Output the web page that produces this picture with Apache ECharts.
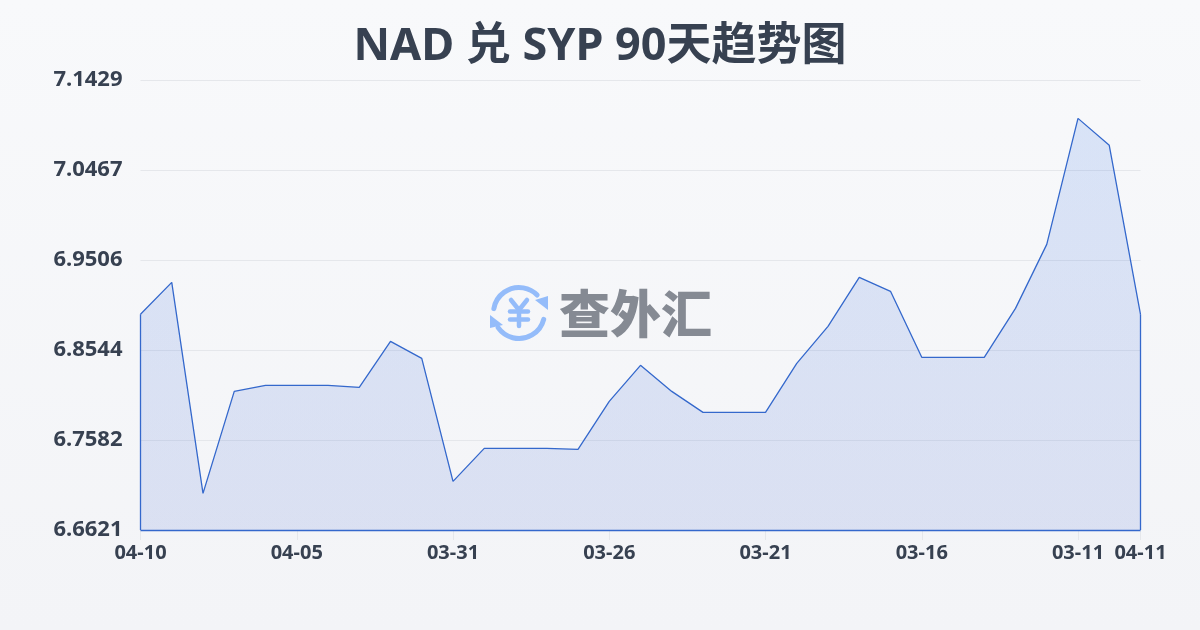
<!DOCTYPE html>
<html><head><meta charset="utf-8">
<style>html,body{margin:0;padding:0;background:#f6f7fa}#c{width:1200px;height:630px}</style>
<script src="https://cdn.jsdelivr.net/npm/echarts@6/dist/echarts.min.js"></script>
</head><body><div id="c"></div>
<script>
const titleText = 'NAD 兑 SYP 90天趋势图';
const watermarkText = '查外汇';
const categories = ['04-10','04-09','04-08','04-07','04-06','04-05','04-04','04-03','04-02','04-01','03-31','03-30','03-29','03-28','03-27','03-26','03-25','03-24','03-23','03-22','03-21','03-20','03-19','03-18','03-17','03-16','03-15','03-14','03-13','03-12','03-11','03-10','04-11'];
const rates = [6.8926,6.9267,6.7012,6.8102,6.8166,6.8166,6.8166,6.8145,6.8636,6.8455,6.7141,6.7493,6.7493,6.7493,6.7483,6.7995,6.8380,6.8102,6.7878,6.7878,6.7878,6.8401,6.8797,6.9320,6.9171,6.8466,6.8466,6.8466,6.8989,6.9673,7.1019,7.0731,6.8926];
const yTicks = [6.6621,6.7582,6.8544,6.9506,7.0467,7.1429];
const labelIdx = [0,5,10,15,20,25,30,32];
const yMin = yTicks[0], yMax = yTicks[yTicks.length-1];
const last = categories.length-1;
const lineBlue = '#3468cc';
const iconBlue = '#94bcfa';
const font = '"Noto Sans","Noto Sans CJK SC",sans-serif';
const edge = (a,b,c,d)=>[{coord:[a,b]},{coord:[c,d]}];

const chart = echarts.init(document.getElementById('c'));
chart.setOption({
  animation:false,
  backgroundColor:{type:'linear',x:0,y:0,x2:0,y2:1,colorStops:[{offset:0,color:'#f8f9fb'},{offset:1,color:'#f3f4f7'}]},
  title:{text:titleText,left:'center',top:20,textStyle:{fontFamily:font,fontSize:45,fontWeight:'bold',color:'#374151'}},
  grid:{left:140.5,right:59.5,top:80,bottom:100},
  xAxis:{type:'category',boundaryGap:false,data:categories,
    axisLine:{show:false},
    axisTick:{show:true,customValues:labelIdx,length:10,lineStyle:{color:'#e5e7eb',width:1}},
    axisLabel:{customValues:labelIdx,hideOverlap:false,margin:13,color:'#374151',fontSize:20,fontWeight:'bold',fontFamily:font},
    splitLine:{show:false}},
  yAxis:{type:'value',min:yMin,max:yMax,
    axisLine:{show:false},axisTick:{show:false,customValues:yTicks},
    axisLabel:{customValues:yTicks,margin:18,color:'#374151',fontSize:22,fontWeight:'bold',fontFamily:font,formatter:v=>v.toFixed(4)},
    splitLine:{show:true,lineStyle:{color:'#e5e7eb',width:1}}},
  series:[{type:'line',data:rates,symbol:'none',smooth:false,
    lineStyle:{color:lineBlue,width:1.3},
    areaStyle:{color:{type:'linear',x:0,y:0,x2:0,y2:1,colorStops:[{offset:0,color:'rgba(60,120,230,0.23)'},{offset:1,color:'rgba(52,90,205,0.19)'}]},origin:'start'},
    markLine:{silent:true,symbol:'none',label:{show:false},animation:false,
      lineStyle:{color:lineBlue,width:1.3,type:'solid'},
      data:[
        edge(0,yMin,0,rates[0]),
        edge(last,yMin,last,rates[last]),
        edge(0,yMin,last,yMin)
      ]}
  }],
  graphic:[
    {type:'text',left:559,top:288,z:10,style:{text:watermarkText,font:'900 51px "Noto Sans CJK SC",sans-serif',fill:'#858a93'}},
    {type:'group',left:490,top:285,z:10,children:[
      {type:'arc',shape:{cx:30,cy:30,r:25.5,startAngle:-2.97,endAngle:-0.78},style:{stroke:iconBlue,lineWidth:5,fill:null,lineCap:'round'}},
      {type:'arc',shape:{cx:30,cy:30,r:25.5,startAngle:0.25,endAngle:2.53},style:{stroke:iconBlue,lineWidth:5,fill:null,lineCap:'round'}},
      {type:'polygon',shape:{points:[[59,13],[59,27],[46,17]]},style:{fill:iconBlue}},
      {type:'polygon',shape:{points:[[1,32],[1,45],[14,42]]},style:{fill:iconBlue}},
      {type:'polyline',shape:{points:[[22,17],[30,27],[38,17]]},style:{stroke:iconBlue,lineWidth:4.5,fill:null,lineCap:'round',lineJoin:'round'}},
      {type:'line',shape:{x1:30,y1:27,x2:30,y2:43},style:{stroke:iconBlue,lineWidth:4.5,lineCap:'round'}},
      {type:'line',shape:{x1:21,y1:28.5,x2:39,y2:28.5},style:{stroke:iconBlue,lineWidth:4.5,lineCap:'round'}},
      {type:'line',shape:{x1:21,y1:36.5,x2:39,y2:36.5},style:{stroke:iconBlue,lineWidth:4.5,lineCap:'round'}}
    ]}
  ]
});
</script></body></html>
